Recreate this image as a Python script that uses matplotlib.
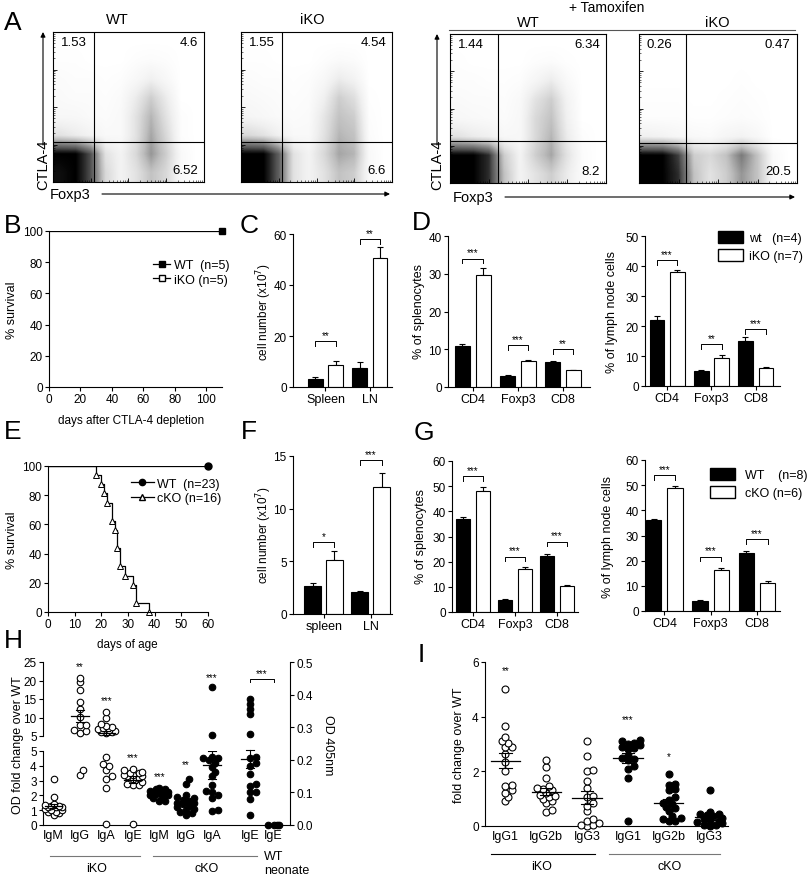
import numpy as np
import matplotlib
matplotlib.use("Agg")
import matplotlib.pyplot as plt
from matplotlib.lines import Line2D
from matplotlib.patches import Patch

plt.rcParams["font.family"] = ["Liberation Sans", "DejaVu Sans"]
plt.rcParams["axes.linewidth"] = 0.8
plt.rcParams["xtick.major.width"] = 0.8
plt.rcParams["ytick.major.width"] = 0.8

# ==== Data ====
# A: flow density (rows bottom -> top, cols left -> right), estimated by eye
flow_wt = [
    [0.95, 1.0, 0.75, 0.25, 0.1, 0.2, 0.35, 0.25, 0.05, 0.0],
    [1.0, 1.0, 0.75, 0.2, 0.1, 0.25, 0.5, 0.3, 0.05, 0.0],
    [0.2, 0.15, 0.1, 0.05, 0.05, 0.2, 0.45, 0.25, 0.02, 0.0],
    [0.06, 0.06, 0.04, 0.03, 0.05, 0.2, 0.4, 0.2, 0.02, 0.0],
    [0.04, 0.03, 0.03, 0.02, 0.04, 0.15, 0.3, 0.15, 0.0, 0.0],
    [0.03, 0.02, 0.02, 0.01, 0.02, 0.06, 0.12, 0.06, 0.0, 0.0],
    [0.01, 0.01, 0.0, 0.0, 0.0, 0.02, 0.03, 0.02, 0.0, 0.0],
    [0.0] * 10,
]
flow_iko = [
    [1.0, 1.0, 0.7, 0.2, 0.1, 0.2, 0.35, 0.3, 0.05, 0.0],
    [1.0, 1.0, 0.7, 0.2, 0.1, 0.25, 0.45, 0.4, 0.05, 0.0],
    [0.25, 0.2, 0.12, 0.05, 0.05, 0.2, 0.4, 0.35, 0.03, 0.0],
    [0.08, 0.06, 0.04, 0.03, 0.04, 0.18, 0.35, 0.3, 0.02, 0.0],
    [0.05, 0.04, 0.03, 0.02, 0.03, 0.12, 0.3, 0.22, 0.01, 0.0],
    [0.03, 0.02, 0.02, 0.01, 0.02, 0.06, 0.15, 0.1, 0.0, 0.0],
    [0.01, 0.01, 0.0, 0.0, 0.0, 0.02, 0.04, 0.03, 0.0, 0.0],
    [0.0] * 10,
]
flow_wt_tam = [
    [1.0, 1.0, 0.85, 0.35, 0.1, 0.2, 0.3, 0.15, 0.03, 0.0],
    [1.0, 1.0, 0.85, 0.3, 0.1, 0.3, 0.45, 0.2, 0.03, 0.0],
    [0.2, 0.15, 0.12, 0.06, 0.06, 0.25, 0.4, 0.15, 0.02, 0.0],
    [0.06, 0.05, 0.04, 0.03, 0.06, 0.25, 0.35, 0.12, 0.0, 0.0],
    [0.04, 0.03, 0.03, 0.02, 0.05, 0.2, 0.3, 0.1, 0.0, 0.0],
    [0.02, 0.02, 0.01, 0.01, 0.02, 0.08, 0.15, 0.05, 0.0, 0.0],
    [0.01, 0.0, 0.0, 0.0, 0.0, 0.02, 0.03, 0.01, 0.0, 0.0],
    [0.0] * 10,
]
flow_iko_tam = [
    [1.0, 1.0, 0.85, 0.35, 0.2, 0.3, 0.5, 0.35, 0.05, 0.0],
    [1.0, 1.0, 0.8, 0.3, 0.25, 0.35, 0.6, 0.35, 0.05, 0.0],
    [0.12, 0.1, 0.07, 0.05, 0.04, 0.08, 0.1, 0.06, 0.0, 0.0],
    [0.02, 0.02, 0.02, 0.01, 0.01, 0.02, 0.03, 0.02, 0.0, 0.0],
    [0.01, 0.01, 0.01, 0.0, 0.0, 0.01, 0.02, 0.01, 0.0, 0.0],
    [0.0, 0.0, 0.0, 0.0, 0.0, 0.0, 0.01, 0.0, 0.0, 0.0],
    [0.0] * 10,
    [0.0] * 10,
]
flow_numbers = [("1.53", "4.6", "6.52"), ("1.55", "4.54", "6.6"),
                ("1.44", "6.34", "8.2"), ("0.26", "0.47", "20.5")]
flow_gates = [(0.27, 0.27), (0.27, 0.27), (0.31, 0.28), (0.30, 0.27)]

# B: survival after CTLA-4 depletion
b_days = [0, 110]
b_surv = [100, 100]

# C: cell number (x10^7)
c_cats = ["Spleen", "LN"]
c_wt, c_wt_err = [3.3, 7.3], [0.7, 2.6]
c_ko, c_ko_err = [8.8, 50.5], [1.3, 4.3]
c_br = [18, 58]
c_stars = ["**", "**"]

# D: % of splenocytes / lymph node cells (iKO)
cells = ["CD4", "Foxp3", "CD8"]
d1_wt, d1_wt_err = [10.9, 2.8, 6.5], [0.6, 0.3, 0.5]
d1_ko, d1_ko_err = [29.6, 6.9, 4.4], [1.8, 0.3, 0.2]
d1_br, d1_stars = [34, 11, 10], ["***", "***", "**"]
d2_wt, d2_wt_err = [22.0, 5.1, 15.0], [1.3, 0.2, 1.3]
d2_ko, d2_ko_err = [37.9, 9.5, 6.0], [0.9, 0.8, 0.4]
d2_br, d2_stars = [42, 14, 19], ["***", "**", "***"]

# E: survival (days of age)
e_days = [0, 18, 20, 21, 22, 24, 25, 26, 27, 29, 32, 33, 38]
e_surv = [100, 93.75, 87.5, 81.25, 75, 62.5, 56.25, 43.75, 31.25, 25, 18.75, 6.25, 0]
e_wt_days = [0, 60]
e_wt_surv = [100, 100]

# F: cell number (x10^7), cKO
f_cats = ["spleen", "LN"]
f_wt, f_wt_err = [2.7, 2.1], [0.25, 0.1]
f_ko, f_ko_err = [5.1, 12.1], [0.85, 1.3]
f_br, f_stars = [6.8, 14.6], ["*", "***"]

# G: % cells, cKO
g1_wt, g1_wt_err = [37.0, 4.8, 22.2], [0.8, 0.2, 0.7]
g1_ko, g1_ko_err = [48.0, 17.0, 10.2], [1.5, 0.8, 0.5]
g1_br, g1_stars = [54, 22, 28], ["***", "***", "***"]
g2_wt, g2_wt_err = [36.0, 4.1, 23.2], [0.7, 0.2, 0.8]
g2_ko, g2_ko_err = [48.7, 16.4, 11.2], [1.1, 0.5, 0.6]
g2_br, g2_stars = [54, 21.5, 28.5], ["***", "***", "***"]

# H: Ig levels (fold change; last two groups OD 405nm)
h_cats = ["IgM", "IgG", "IgA", "IgE", "IgM", "IgG", "IgA", "IgE", "IgE"]
h_iko_igm = [3.1, 1.9, 1.4, 1.35, 1.3, 1.3, 1.25, 1.2, 1.2, 1.1, 1.0, 1.0, 0.9, 0.9, 0.8, 0.7]
h_iko_igg = [20.8, 19.5, 17.3, 14.1, 12.4, 10.1, 8.0, 7.9, 6.5, 6.3, 5.7, 3.4, 3.7]
h_iko_iga = [11.5, 9.8, 8.2, 7.6, 7.3, 7.1, 6.9, 6.6, 6.4, 6.2, 6.0, 5.8,
             4.6, 4.1, 4.0, 3.7, 3.3, 3.1, 2.5, 0.05]
h_iko_ige = [3.8, 3.7, 3.6, 3.5, 3.5, 3.4, 3.4, 3.3, 3.3, 3.2, 3.1, 2.9, 2.8, 2.7, 2.7, 0.05]
h_cko_igm = [2.5, 2.4, 2.4, 2.3, 2.3, 2.2, 2.2, 2.2, 2.1, 2.1, 2.0, 2.0, 1.9, 1.8, 1.6, 1.6]
h_cko_igg = [3.1, 2.8, 2.0, 1.9, 1.8, 1.7, 1.6, 1.5, 1.5, 1.4, 1.3, 1.2, 1.1, 1.0, 0.9, 0.8, 0.7]
h_cko_iga = [18.2, 5.2, 4.6, 4.5, 4.5, 4.4, 4.2, 3.9, 3.6, 3.3, 2.7, 2.3, 2.2, 2.0, 1.8, 1.0, 0.95]
h_cko_ige_od = [0.385, 0.37, 0.355, 0.34, 0.28, 0.21, 0.205, 0.19, 0.18, 0.155,
                0.125, 0.12, 0.10, 0.10, 0.08, 0.03]
h_wt_neo_ige_od = [0.0, 0.0, 0.0, 0.0]
h_stars = ["", "**", "***", "***", "***", "**", "***"]
h_star_y = [0, 24, 14.7, 4.6, 3.3, 4.1, 21]

# I: IgG subclasses
i_cats = ["IgG1", "IgG2b", "IgG3", "IgG1", "IgG2b", "IgG3"]
i_iko_igg1 = [5.0, 3.65, 3.25, 3.1, 3.05, 2.9, 2.9, 2.65, 2.35, 2.0, 1.5, 1.45, 1.3, 1.2, 1.05, 0.9]
i_iko_igg2b = [2.4, 2.15, 1.75, 1.45, 1.4, 1.35, 1.3, 1.2, 1.15, 1.1, 1.05, 1.0, 0.9, 0.85, 0.6, 0.5]
i_iko_igg3 = [3.1, 2.55, 2.05, 2.0, 1.65, 1.4, 1.1, 1.05, 0.85, 0.75, 0.55, 0.25, 0.2, 0.1, 0.05, 0.05, 0.0]
i_cko_igg1 = [3.15, 3.1, 3.05, 3.0, 2.95, 2.9, 2.85, 2.8, 2.6, 2.5, 2.45, 2.4, 2.2, 2.1, 1.75, 0.2]
i_cko_igg2b = [1.9, 1.55, 1.5, 1.35, 1.3, 1.05, 0.95, 0.85, 0.8, 0.7, 0.65, 0.55, 0.35, 0.3, 0.25, 0.2, 0.2]
i_cko_igg3 = [1.3, 0.5, 0.45, 0.45, 0.4, 0.35, 0.3, 0.25, 0.2, 0.2, 0.15, 0.1, 0.05, 0.05, 0.0]
i_stars = ["**", "", "", "***", "*", ""]
i_star_y = [5.7, 0, 0, 3.9, 2.55, 0]

# ==== Figure ====
W, H = 807, 879
fig = plt.figure(figsize=(W / 100, H / 100), dpi=100)


def axes_px(l, t, r, b):
    return fig.add_axes([l / W, 1 - b / H, (r - l) / W, (b - t) / H])


def ftext(x, y, s, **kw):
    return fig.text(x / W, 1 - y / H, s, **kw)


def fline(x0, y0, x1, y1, **kw):
    fig.add_artist(Line2D([x0 / W, x1 / W], [1 - y0 / H, 1 - y1 / H],
                          transform=fig.transFigure, **kw))


def farrow(x0, y0, x1, y1):
    fig.add_artist(plt.Annotation("", xy=(x1, H - y1), xytext=(x0, H - y0),
                                  xycoords="figure pixels", textcoords="figure pixels",
                                  arrowprops=dict(arrowstyle="-|>", lw=0.8, color="k",
                                                  mutation_scale=7, shrinkA=0, shrinkB=0)))


def clean(ax):
    ax.spines["top"].set_visible(False)
    ax.spines["right"].set_visible(False)
    ax.tick_params(labelsize=8.5, length=3, pad=1.5)


# ---- A: flow plots ----
flow_boxes = [(53, 33, 204, 183), (241, 33, 392, 183), (450, 35, 606, 184), (639, 35, 797, 184)]
minor = [d + np.log10(k) for d in range(4) for k in range(2, 10)]
for box, grid, gate, nums in zip(flow_boxes, [flow_wt, flow_iko, flow_wt_tam, flow_iko_tam],
                                 flow_gates, flow_numbers):
    ax = axes_px(*box)
    ax.imshow(np.array(grid), origin="lower", extent=(0, 4, 0, 4), cmap="Greys",
              vmin=0, vmax=1, interpolation="bilinear", aspect="auto")
    ax.axvline(gate[0] * 4, color="k", lw=0.8)
    ax.axhline(gate[1] * 4, color="k", lw=0.8)
    ax.set_xlim(0, 4)
    ax.set_ylim(0, 4)
    ax.set_xticks(range(5))
    ax.set_yticks(range(5))
    ax.set_xticks(minor, minor=True)
    ax.set_yticks(minor, minor=True)
    ax.set_xticklabels([])
    ax.set_yticklabels([])
    ax.tick_params(which="major", direction="in", length=3, width=0.6)
    ax.tick_params(which="minor", direction="in", length=1.5, width=0.4)
    ax.text(0.05, 0.93, nums[0], transform=ax.transAxes, fontsize=9.5, ha="left", va="center")
    ax.text(0.96, 0.93, nums[1], transform=ax.transAxes, fontsize=9.5, ha="right", va="center")
    ax.text(0.96, 0.08, nums[2], transform=ax.transAxes, fontsize=9.5, ha="right", va="center")

ftext(117, 20, "WT", fontsize=10.5, ha="center", va="center")
ftext(312, 20, "iKO", fontsize=10.5, ha="center", va="center")
ftext(528, 23, "WT", fontsize=10.5, ha="center", va="center")
ftext(717, 23, "iKO", fontsize=10.5, ha="center", va="center")
ftext(607, 8, "+ Tamoxifen", fontsize=10, ha="center", va="center")
fline(449, 31, 795, 31, color="#555555", lw=0.8)
for xa, xf, xend, yf, ya in [(43, 50, 390, 195, 33), (437, 453, 795, 198, 35)]:
    ftext(xa, 165, "CTLA-4", fontsize=10.5, rotation=90, ha="center", va="center")
    farrow(xa, 146, xa, ya)
    ftext(xf, yf, "Foxp3", fontsize=10.5, ha="left", va="center")
    farrow(xf + 52, yf, xend, yf)


# ---- bar panels ----
def bar_panel(box, cats, wt, wt_err, ko, ko_err, ylim, ystep, xlim, br, stars, w=0.33, off=0.23):
    ax = axes_px(*box)
    x = np.arange(len(cats))
    ax.errorbar(x - off, wt, yerr=[np.zeros(len(x)), wt_err], fmt="none", ecolor="k",
                elinewidth=0.8, capsize=2.5, capthick=0.8, zorder=1)
    ax.errorbar(x + off, ko, yerr=[np.zeros(len(x)), ko_err], fmt="none", ecolor="k",
                elinewidth=0.8, capsize=2.5, capthick=0.8, zorder=1)
    ax.bar(x - off, wt, w, color="black", edgecolor="black", lw=0.8, zorder=2)
    ax.bar(x + off, ko, w, color="white", edgecolor="black", lw=0.8, zorder=2)
    h = ylim * 0.03
    for xi, yb, s in zip(x, br, stars):
        ax.plot([xi - off, xi - off, xi + off, xi + off], [yb - h, yb, yb, yb - h], color="k", lw=0.7)
        ax.text(xi, yb + h * 0.3, s, ha="center", va="bottom", fontsize=7)
    ax.set_xlim(*xlim)
    ax.set_ylim(0, ylim)
    ax.set_yticks(np.arange(0, ylim + 0.1, ystep))
    ax.set_xticks(x, cats)
    clean(ax)
    ax.tick_params(axis="x", labelsize=9)
    return ax


bar_panel((293, 235, 392, 388), c_cats, c_wt, c_wt_err, c_ko, c_ko_err, 60, 20, (-0.73, 1.5), c_br, c_stars)
ftext(264, 312, "cell number (x10$^{7}$)", fontsize=8.5, rotation=90, ha="center", va="center")
bar_panel((448, 237, 590, 388), cells, d1_wt, d1_wt_err, d1_ko, d1_ko_err, 40, 10, (-0.55, 2.6), d1_br, d1_stars)
ftext(419, 312, "% of splenocytes", fontsize=9, rotation=90, ha="center", va="center")
bar_panel((645, 237, 780, 387), cells, d2_wt, d2_wt_err, d2_ko, d2_ko_err, 50, 10, (-0.5, 2.55), d2_br, d2_stars)
ftext(612, 312, "% of lymph node cells", fontsize=9, rotation=90, ha="center", va="center")
fig.legend([Patch(facecolor="black", edgecolor="black"), Patch(facecolor="white", edgecolor="black")],
           ["wt   (n=4)", "iKO (n=7)"], loc="upper left", bbox_to_anchor=(718 / W, 1 - 232 / H),
           frameon=False, fontsize=9, handlelength=2.0, handleheight=1.1, labelspacing=0.35,
           handletextpad=0.5, borderaxespad=0, borderpad=0)

bar_panel((293, 457, 392, 615), f_cats, f_wt, f_wt_err, f_ko, f_ko_err, 15, 5, (-0.65, 1.45), f_br, f_stars, w=0.36)
ftext(264, 535, "cell number (x10$^{7}$)", fontsize=8.5, rotation=90, ha="center", va="center")
bar_panel((452, 462, 578, 613), cells, g1_wt, g1_wt_err, g1_ko, g1_ko_err, 60, 10, (-0.5, 2.5), g1_br, g1_stars)
ftext(421, 537, "% of splenocytes", fontsize=9, rotation=90, ha="center", va="center")
bar_panel((645, 461, 780, 612), cells, g2_wt, g2_wt_err, g2_ko, g2_ko_err, 60, 10, (-0.42, 2.5), g2_br, g2_stars)
ftext(608, 537, "% of lymph node cells", fontsize=9, rotation=90, ha="center", va="center")
fig.legend([Patch(facecolor="black", edgecolor="black"), Patch(facecolor="white", edgecolor="black")],
           ["WT    (n=8)", "cKO (n=6)"], loc="upper left", bbox_to_anchor=(710 / W, 1 - 469 / H),
           frameon=False, fontsize=9, handlelength=2.0, handleheight=1.1, labelspacing=0.35,
           handletextpad=0.8, borderaxespad=0, borderpad=0)

# ---- B: survival ----
ax = axes_px(49, 232, 222, 388)
ax.plot(b_days, b_surv, color="k", lw=0.9)
ax.plot(b_days[-1], b_surv[-1], "s", color="k", ms=5, clip_on=False)
ax.set_xlim(0, 110)
ax.set_ylim(0, 100)
ax.set_xticks(range(0, 101, 20))
ax.set_yticks(range(0, 101, 20))
clean(ax)
ax.legend([Line2D([], [], color="k", marker="s", ms=4, lw=0.9),
           Line2D([], [], color="k", marker="s", mfc="white", ms=4, lw=0.9)],
          ["WT  (n=5)", "iKO (n=5)"], loc="upper left", bbox_to_anchor=(0.6, 0.82),
          frameon=False, fontsize=9, handlelength=1.4, handletextpad=0.3, labelspacing=0.2,
          borderaxespad=0, borderpad=0)
ftext(12, 310, "% survival", fontsize=9, rotation=90, ha="center", va="center")
ftext(131, 421, "days after CTLA-4 depletion", fontsize=8.5, ha="center", va="center")

# ---- E: survival ----
ax = axes_px(48, 467, 208, 613)
ax.plot(e_wt_days, e_wt_surv, color="k", lw=0.9)
ax.plot(e_wt_days[-1], e_wt_surv[-1], "o", color="k", ms=5, clip_on=False)
ax.step(e_days, e_surv, where="post", color="k", lw=0.9)
ax.plot(e_days[1:], e_surv[1:], "^", color="k", mfc="white", ms=5, mew=0.7, clip_on=False)
ax.set_xlim(0, 60)
ax.set_ylim(0, 100)
ax.set_xticks(range(0, 61, 10))
ax.set_yticks(range(0, 101, 20))
clean(ax)
ax.legend([Line2D([], [], color="k", marker="o", ms=4.5, lw=0.9),
           Line2D([], [], color="k", marker="^", mfc="white", ms=4.5, lw=0.9)],
          ["WT  (n=23)", "cKO (n=16)"], loc="upper left", bbox_to_anchor=(0.52, 0.92),
          frameon=False, fontsize=9, handlelength=1.8, handletextpad=0.3, labelspacing=0.2,
          borderaxespad=0, borderpad=0)
ftext(12, 540, "% survival", fontsize=9, rotation=90, ha="center", va="center")
ftext(127, 645, "days of age", fontsize=8.5, ha="center", va="center")


# ---- swarm helper ----
def swarm_x(ax, x0, vals, diam, max_off):
    t = ax.transData
    pts = t.transform(np.column_stack([np.full(len(vals), x0), vals]))
    placed = []
    step = diam * 0.45
    n = int(max_off / step)
    cands = [0.0] + [s * i * step for i in range(1, n + 1) for s in (1, -1)]
    for xp, yp in pts:
        best, best_d = 0.0, -1.0
        for c in cands:
            d = min([np.hypot(xp + c - qx, yp - qy) for qx, qy in placed] or [1e9])
            if d >= diam * 0.7:
                best = c
                break
            if d > best_d:
                best, best_d = c, d
        placed.append((xp + best, yp))
    return t.inverted().transform(np.array(placed))[:, 0]


def mean_sem(ax, x0, vals, hw, cw):
    v = np.asarray(vals)
    m = v.mean()
    se = v.std(ddof=1) / np.sqrt(len(v))
    ax.plot([x0 - hw, x0 + hw], [m, m], color="k", lw=0.9, zorder=5)
    ax.plot([x0, x0], [m - se, m + se], color="k", lw=0.8, zorder=5)
    for yy in (m - se, m + se):
        ax.plot([x0 - cw, x0 + cw], [yy, yy], color="k", lw=0.8, zorder=5)


def dots(ax, x0, vals, filled, diam, ms, max_off):
    vals = np.sort(np.asarray(vals, dtype=float))
    if len(vals) == 0:
        return
    xs = swarm_x(ax, x0, vals, diam, max_off)
    ax.plot(xs, vals, "o", ms=ms, mec="k", mew=0.8, mfc="k" if filled else "white",
            ls="none", clip_on=False, zorder=4)


# ---- H ----
h_pos = [0, 1, 2, 3, 4, 5, 6, 7.43, 8.33]
h_xlim = (-0.4, 8.95)
ax_lo = axes_px(43, 752, 290, 826)
ax_hi = axes_px(43, 663, 290, 737)
ax_r = axes_px(43, 663, 290, 826)
for a in (ax_lo, ax_hi, ax_r):
    a.set_xlim(*h_xlim)
    a.patch.set_visible(False)
ax_lo.set_ylim(0, 5)
ax_hi.set_ylim(5, 25)
ax_r.set_ylim(0, 0.5)
clean(ax_lo)
clean(ax_hi)
ax_hi.spines["bottom"].set_visible(False)
ax_hi.set_xticks([])
ax_lo.set_yticks(range(0, 6))
ax_hi.set_yticks(range(5, 26, 5))
ax_lo.set_xticks(h_pos, h_cats)
ax_lo.tick_params(axis="x", length=0, labelsize=9, pad=3)
for s in ("left", "top", "bottom"):
    ax_r.spines[s].set_visible(False)
ax_r.set_xticks([])
ax_r.yaxis.tick_right()
ax_r.set_yticks(np.arange(0, 0.51, 0.1))
ax_r.set_yticklabels([f"{v:.1f}" for v in np.arange(0, 0.51, 0.1)])
ax_r.tick_params(labelsize=8.5, length=3, pad=1.5)
ftext(328, 745, "OD 405nm", fontsize=9, rotation=270, ha="center", va="center")
ftext(18, 745, "OD fold change over WT", fontsize=9, rotation=90, ha="center", va="center")

h_groups = [h_iko_igm, h_iko_igg, h_iko_iga, h_iko_ige, h_cko_igm, h_cko_igg, h_cko_iga]
for k, vals in enumerate(h_groups):
    v = np.asarray(vals)
    filled = k >= 4
    dots(ax_lo, h_pos[k], v[v <= 5], filled, 6.5, 4.7, 11)
    dots(ax_hi, h_pos[k], v[v > 5], filled, 6.5, 4.7, 11)
    mean_sem(ax_lo, h_pos[k], v, 0.33, 0.14)
    mean_sem(ax_hi, h_pos[k], v, 0.33, 0.14)
    if h_stars[k]:
        a = ax_hi if h_star_y[k] > 5 else ax_lo
        a.text(h_pos[k], h_star_y[k], h_stars[k], ha="center", va="center", fontsize=7)
dots(ax_r, h_pos[7], h_cko_ige_od, True, 6.5, 4.7, 11)
mean_sem(ax_r, h_pos[7], h_cko_ige_od, 0.33, 0.14)
dots(ax_r, h_pos[8], h_wt_neo_ige_od, True, 6.5, 4.7, 11)
ax_r.plot([h_pos[7], h_pos[7], h_pos[8], h_pos[8]], [0.44, 0.448, 0.448, 0.44], color="k", lw=0.7)
ax_r.text((h_pos[7] + h_pos[8]) / 2, 0.452, "***", ha="center", va="bottom", fontsize=7)
fline(50, 857, 140, 857, color="#777777", lw=0.8)
fline(153, 857, 257, 857, color="#777777", lw=0.8)
ftext(97, 869, "iKO", fontsize=9, ha="center", va="center")
ftext(207, 869, "cKO", fontsize=9, ha="center", va="center")
ftext(264, 857, "WT", fontsize=9, ha="left", va="center")
ftext(264, 871, "neonate", fontsize=9, ha="left", va="center")

# ---- I ----
ax = axes_px(485, 663, 728, 827)
ax.set_xlim(-0.5, 5.45)
ax.set_ylim(0, 6)
ax.set_yticks(range(0, 7, 2))
ax.set_xticks(range(6), i_cats)
clean(ax)
ax.tick_params(axis="x", length=0, labelsize=9, pad=3)
i_groups = [i_iko_igg1, i_iko_igg2b, i_iko_igg3, i_cko_igg1, i_cko_igg2b, i_cko_igg3]
for k, vals in enumerate(i_groups):
    dots(ax, k, vals, k >= 3, 6.8, 5.0, 15)
    mean_sem(ax, k, vals, 0.36, 0.15)
    if i_stars[k]:
        ax.text(k, i_star_y[k], i_stars[k], ha="center", va="center", fontsize=7)
ftext(459, 745, "fold change over WT", fontsize=9, rotation=90, ha="center", va="center")
fline(491, 855, 595, 855, color="k", lw=0.8)
fline(609, 855, 720, 855, color="#777777", lw=0.8)
ftext(542, 867, "iKO", fontsize=9, ha="center", va="center")
ftext(670, 867, "cKO", fontsize=9, ha="center", va="center")

# ---- panel letters ----
for s, x, y in [("A", 4, 23), ("B", 4, 226), ("C", 240, 226), ("D", 412, 223),
                ("E", 4, 432), ("F", 241, 432), ("G", 414, 433), ("H", 4, 641), ("I", 418, 655)]:
    ftext(x, y, s, fontsize=19, ha="left", va="center")

fig.savefig("out.png", dpi=100)
